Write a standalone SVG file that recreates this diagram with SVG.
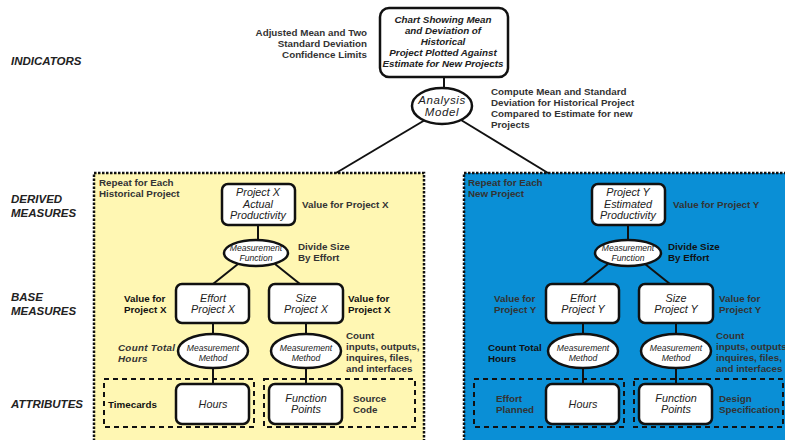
<svg xmlns="http://www.w3.org/2000/svg" width="785" height="440" viewBox="0 0 785 440">
  <style>
    text { font-family: "Liberation Sans", Arial, sans-serif; }
    .tier { font-size: 11.5px; font-weight: bold; font-style: italic; fill: #222; }
    .lbl { font-size: 9.8px; font-weight: bold; fill: #333; }
    .lblk { font-size: 9.8px; font-weight: bold; fill: #111; }
    .node { fill: #fff; stroke: #111; stroke-width: 2.5; }
    .nt { font-size: 10.8px; font-style: italic; fill: #222; text-anchor: middle; }
    .ntb { font-size: 9.8px; font-style: italic; font-weight: bold; fill: #222; text-anchor: middle; }
    .et { font-size: 8.6px; font-style: italic; fill: #222; text-anchor: middle; }
    .am { font-size: 11.5px; font-style: italic; fill: #222; text-anchor: middle; letter-spacing: 0.6px; }
    .conn line { stroke: #111; stroke-width: 2; }
    .group { stroke: #111; stroke-width: 2.5; stroke-dasharray: 2.5 1.5; }
    .src { fill: none; stroke: #111; stroke-width: 2; stroke-dasharray: 5 4; }
  </style>

  <!-- tier labels -->
  <g id="tiers">
    <text class="tier" x="11" y="65">INDICATORS</text>
    <text class="tier" x="11" y="203">DERIVED</text>
    <text class="tier" x="11" y="217">MEASURES</text>
    <text class="tier" x="11" y="301">BASE</text>
    <text class="tier" x="11" y="315">MEASURES</text>
    <text class="tier" x="11" y="408">ATTRIBUTES</text>
  </g>

  <!-- repeat groups -->
  <rect id="group-historical" class="group" x="94" y="173" width="330" height="290" fill="#fff7b3"/>
  <rect id="group-new" class="group" x="464" y="173" width="330" height="290" fill="#0a8fd6"/>

  <!-- data source groupings -->
  <rect class="src" x="104" y="379" width="150" height="48"/>
  <rect class="src" x="264" y="379" width="151" height="48"/>
  <rect class="src" x="474" y="379" width="150" height="48"/>
  <rect class="src" x="634" y="379" width="149" height="48"/>

  <!-- connectors -->
  <g id="connectors" class="conn">
    <line x1="444" y1="77" x2="444" y2="89"/>
    <line x1="425" y1="120" x2="336" y2="173"/>
    <line x1="461" y1="120" x2="548" y2="173"/>
    <!-- Project X -->
    <line x1="258" y1="225" x2="258" y2="241"/>
    <line x1="238" y1="264" x2="213" y2="284"/>
    <line x1="275" y1="264" x2="300" y2="284"/>
    <line x1="213" y1="323" x2="213" y2="335"/>
    <line x1="306" y1="323" x2="306" y2="335"/>
    <line x1="213" y1="368" x2="213" y2="384"/>
    <line x1="306" y1="368" x2="306" y2="384"/>
    <!-- Project Y -->
    <line x1="628" y1="225" x2="628" y2="241"/>
    <line x1="608" y1="264" x2="583" y2="284"/>
    <line x1="645" y1="264" x2="670" y2="284"/>
    <line x1="583" y1="323" x2="583" y2="335"/>
    <line x1="676" y1="323" x2="676" y2="335"/>
    <line x1="583" y1="368" x2="583" y2="384"/>
    <line x1="676" y1="368" x2="676" y2="384"/>
  </g>

  <!-- indicator -->
  <g id="chart">
    <rect class="node" x="380" y="8" width="128" height="69" rx="9"/>
    <text class="ntb" x="443" y="23">Chart Showing Mean</text>
    <text class="ntb" x="443" y="34">and Deviation of</text>
    <text class="ntb" x="443" y="45">Historical</text>
    <text class="ntb" x="443" y="56">Project Plotted Against</text>
    <text class="ntb" x="443" y="67">Estimate for New Projects</text>
  </g>
  <g id="analysis-model">
    <ellipse class="node" cx="442" cy="106" rx="30" ry="18"/>
    <text class="am" x="442" y="104">Analysis</text>
    <text class="am" x="442" y="116">Model</text>
  </g>
  <text class="lbl" x="367" y="35.5" text-anchor="end">Adjusted Mean and Two</text>
  <text class="lbl" x="367" y="46.5" text-anchor="end">Standard Deviation</text>
  <text class="lbl" x="367" y="57.5" text-anchor="end">Confidence Limits</text>
  <text class="lbl" x="491" y="94.5">Compute Mean and Standard</text>
  <text class="lbl" x="491" y="105.7">Deviation for Historical Project</text>
  <text class="lbl" x="491" y="117">Compared to Estimate for new</text>
  <text class="lbl" x="491" y="128">Projects</text>

  <!-- historical project X -->
  <text class="lbl" x="99" y="186">Repeat for Each</text>
  <text class="lbl" x="99" y="197">Historical Project</text>
  <g id="productivity-x">
    <rect class="node" x="222" y="184" width="73" height="41" rx="6"/>
    <text class="nt" x="258" y="196">Project X</text>
    <text class="nt" x="258" y="207.5">Actual</text>
    <text class="nt" x="258" y="219">Productivity</text>
  </g>
  <text class="lbl" x="302" y="208">Value for Project X</text>
  <g id="function-x">
    <ellipse class="node" cx="256" cy="253" rx="32" ry="13"/>
    <text class="et" x="256" y="251">Measurement</text>
    <text class="et" x="256" y="261">Function</text>
  </g>
  <text class="lbl" x="298" y="250">Divide Size</text>
  <text class="lbl" x="298" y="261">By Effort</text>
  <g id="effort-x">
    <rect class="node" x="176" y="284" width="73" height="39" rx="6"/>
    <text class="nt" x="213" y="302">Effort</text>
    <text class="nt" x="213" y="313">Project X</text>
  </g>
  <g id="size-x">
    <rect class="node" x="269" y="284" width="74" height="39" rx="6"/>
    <text class="nt" x="306" y="302">Size</text>
    <text class="nt" x="306" y="313">Project X</text>
  </g>
  <text class="lblk" x="124" y="302">Value for</text>
  <text class="lblk" x="124" y="313">Project X</text>
  <text class="lblk" x="348" y="302">Value for</text>
  <text class="lblk" x="348" y="313">Project X</text>
  <g id="method-effort-x">
    <ellipse class="node" cx="213" cy="351" rx="35" ry="17"/>
    <text class="et" x="213" y="351">Measurement</text>
    <text class="et" x="213" y="361">Method</text>
  </g>
  <g id="method-size-x">
    <ellipse class="node" cx="306" cy="351" rx="35" ry="17"/>
    <text class="et" x="306" y="351">Measurement</text>
    <text class="et" x="306" y="361">Method</text>
  </g>
  <text class="lbl" x="118" y="351" font-style="italic" letter-spacing="0.3" fill="#444">Count Total</text>
  <text class="lbl" x="118" y="362" font-style="italic" letter-spacing="0.3" fill="#444">Hours</text>
  <text class="lbl" x="346" y="339">Count</text>
  <text class="lbl" x="346" y="350">inputs, outputs,</text>
  <text class="lbl" x="346" y="361">inquires, files,</text>
  <text class="lbl" x="346" y="372">and interfaces</text>
  <g id="hours-x">
    <rect class="node" x="176" y="384" width="73" height="40" rx="6"/>
    <text class="nt" x="213" y="408">Hours</text>
  </g>
  <g id="fp-x">
    <rect class="node" x="269" y="384" width="73" height="40" rx="6"/>
    <text class="nt" x="306" y="402">Function</text>
    <text class="nt" x="306" y="413">Points</text>
  </g>
  <text class="lblk" x="108" y="408">Timecards</text>
  <text class="lbl" x="353" y="402">Source</text>
  <text class="lbl" x="353" y="413">Code</text>

  <!-- new project Y -->
  <text class="lbl" x="468" y="186">Repeat for Each</text>
  <text class="lbl" x="468" y="197">New Project</text>
  <g id="productivity-y">
    <rect class="node" x="592" y="184" width="73" height="41" rx="6"/>
    <text class="nt" x="628" y="196">Project Y</text>
    <text class="nt" x="628" y="207.5">Estimated</text>
    <text class="nt" x="628" y="219">Productivity</text>
  </g>
  <text class="lbl" x="673" y="208">Value for Project Y</text>
  <g id="function-y">
    <ellipse class="node" cx="628" cy="253" rx="33" ry="13"/>
    <text class="et" x="628" y="251">Measurement</text>
    <text class="et" x="628" y="261">Function</text>
  </g>
  <text class="lblk" x="668" y="250">Divide Size</text>
  <text class="lblk" x="668" y="261">By Effort</text>
  <g id="effort-y">
    <rect class="node" x="546" y="284" width="73" height="39" rx="6"/>
    <text class="nt" x="583" y="302">Effort</text>
    <text class="nt" x="583" y="313">Project Y</text>
  </g>
  <g id="size-y">
    <rect class="node" x="639" y="284" width="74" height="39" rx="6"/>
    <text class="nt" x="676" y="302">Size</text>
    <text class="nt" x="676" y="313">Project Y</text>
  </g>
  <text class="lbl" x="494" y="302">Value for</text>
  <text class="lbl" x="494" y="313">Project Y</text>
  <text class="lbl" x="719" y="302">Value for</text>
  <text class="lbl" x="719" y="313">Project Y</text>
  <g id="method-effort-y">
    <ellipse class="node" cx="583" cy="351" rx="35" ry="17"/>
    <text class="et" x="583" y="351">Measurement</text>
    <text class="et" x="583" y="361">Method</text>
  </g>
  <g id="method-size-y">
    <ellipse class="node" cx="676" cy="351" rx="35" ry="17"/>
    <text class="et" x="676" y="351">Measurement</text>
    <text class="et" x="676" y="361">Method</text>
  </g>
  <text class="lblk" x="488" y="351">Count Total</text>
  <text class="lblk" x="488" y="362">Hours</text>
  <text class="lbl" x="716" y="339">Count</text>
  <text class="lbl" x="716" y="350">inputs, outputs,</text>
  <text class="lbl" x="716" y="361">inquires, files,</text>
  <text class="lbl" x="716" y="372">and interfaces</text>
  <g id="hours-y">
    <rect class="node" x="546" y="384" width="73" height="40" rx="6"/>
    <text class="nt" x="583" y="408">Hours</text>
  </g>
  <g id="fp-y">
    <rect class="node" x="639" y="384" width="73" height="40" rx="6"/>
    <text class="nt" x="676" y="402">Function</text>
    <text class="nt" x="676" y="413">Points</text>
  </g>
  <text class="lbl" x="496" y="402">Effort</text>
  <text class="lbl" x="496" y="413">Planned</text>
  <text class="lbl" x="719" y="402">Design</text>
  <text class="lbl" x="719" y="413">Specification</text>
</svg>
